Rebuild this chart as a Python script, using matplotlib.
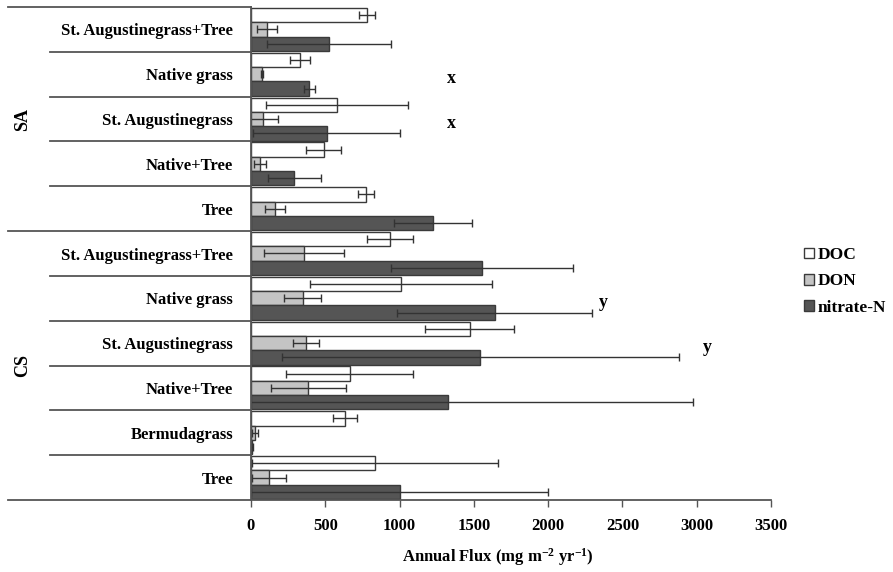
import matplotlib
matplotlib.use('Agg')
import matplotlib.pyplot as plt
from matplotlib.patches import Patch

# categories from top to bottom of the chart
categories = ['St. Augustinegrass+Tree', 'Native grass', 'St. Augustinegrass', 'Native+Tree', 'Tree',
              'St. Augustinegrass+Tree', 'Native grass', 'St. Augustinegrass', 'Native+Tree',
              'Bermudagrass', 'Tree']
groups = ['SA', 'CS']
group_sizes = [5, 6]

doc = [782, 330, 580, 488, 775, 937, 1009, 1472, 663, 634, 834]
doc_err = [52, 68, 476, 115, 56, 156, 611, 300, 430, 81, 830]
don = [106, 74, 80, 61, 160, 355, 348, 371, 387, 29, 121]
don_err = [68, 8, 104, 40, 68, 270, 125, 89, 250, 20, 112]
nitrate = [526, 393, 510, 292, 1227, 1555, 1640, 1544, 1328, 7, 1000]
nitrate_err = [418, 36, 496, 180, 262, 614, 655, 1335, 1650, 4, 1000]

# significance letters: (category index, x value, letter)
letters = [(1, 1346, 'x'), (2, 1346, 'x'), (6, 2369, 'y'), (7, 3075, 'y')]

plt.rcParams['font.family'] = ['Liberation Serif', 'DejaVu Serif']
plt.rcParams['font.weight'] = 'bold'
plt.rcParams['mathtext.fontset'] = 'custom'
plt.rcParams['mathtext.rm'] = 'Liberation Serif:bold'
plt.rcParams['mathtext.bf'] = 'Liberation Serif:bold'
plt.rcParams['mathtext.default'] = 'bf'

fig = plt.figure(figsize=(8.93, 5.72), dpi=100)
ax = fig.add_axes([251 / 893, 1 - 500 / 572, 520 / 893, 493 / 572])

edge = '#3a3a3a'
series = [(doc, doc_err, 'white', 'DOC', -0.32),
          (don, don_err, '#c4c4c4', 'DON', 0.0),
          (nitrate, nitrate_err, '#555555', 'nitrate-N', 0.32)]
ypos = list(range(len(categories)))
for vals, errs, col, lab, off in series:
    y = [p + off for p in ypos]
    ax.barh(y, vals, height=0.32, color=col, edgecolor=edge, linewidth=1.0, label=lab)
    ax.errorbar(vals, y, xerr=errs, fmt='none', ecolor='#333333', elinewidth=1.0, capsize=3, capthick=1.0)

ax.set_xlim(0, 3500)
ax.set_ylim(len(categories) - 0.5, -0.5)
ax.set_xticks(range(0, 3501, 500))
ax.tick_params(axis='x', direction='out', length=5, width=1, labelsize=12, color='#555555', pad=8)
ax.set_yticks(ypos)
ax.set_yticklabels(categories, fontsize=12, fontweight='bold')
ax.tick_params(axis='y', length=0, pad=13)
for s in ['top', 'right']:
    ax.spines[s].set_visible(False)
for s in ['left', 'bottom']:
    ax.spines[s].set_color('#555555')
    ax.spines[s].set_linewidth(1.3)

# table-like separators on the left
tr = ax.get_yaxis_transform()
bounds = [-0.5]
for n in group_sizes:
    bounds.append(bounds[-1] + n)
for i in range(len(categories) + 1):
    yb = i - 0.5
    x0 = -0.467 if yb in bounds else -0.387
    ax.plot([x0, 0], [yb, yb], transform=tr, color='#555555', lw=1.3, clip_on=False)

# group labels
for g, lo, hi in zip(groups, bounds[:-1], bounds[1:]):
    ax.text(-0.44, (lo + hi) / 2, g, transform=tr, rotation=90, ha='center', va='center',
            fontsize=13, fontweight='bold')

for idx, xv, t in letters:
    ax.text(xv, idx + 0.1, t, ha='center', va='center', fontsize=13, fontweight='bold')

ax.set_xlabel(r'Annual Flux (mg m$^{-2}$ yr$^{-1}$)', fontsize=12, fontweight='bold')
ax.xaxis.set_label_coords(0.475, -0.093)

handles = [Patch(facecolor=c, edgecolor=edge, label=l) for _, _, c, l, _ in series]
fig.legend(handles=handles, loc='upper left', bbox_to_anchor=(804 / 893, 1 - 247 / 572),
           frameon=False, fontsize=12.5, handlelength=0.55, handleheight=0.55,
           handletextpad=0.25, labelspacing=0.6, borderaxespad=0, borderpad=0)

fig.savefig('out.png', dpi=100)
